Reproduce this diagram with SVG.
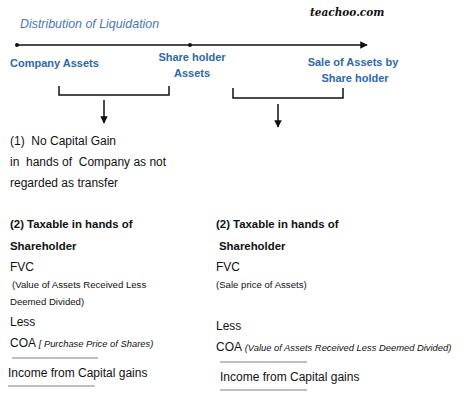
<svg xmlns="http://www.w3.org/2000/svg" width="474" height="405" viewBox="0 0 474 405">
<defs>
<style>
text{font-family:"Liberation Sans",Arial,sans-serif;fill:#111;white-space:pre}
.hd{font-weight:bold;font-size:11px;fill:#2f68a6}
.ti{font-style:italic;font-size:12.4px;fill:#4a78b3}
.b{font-weight:bold;font-size:11.4px}
.r{font-size:12px}
.s{font-size:9.6px}
.si{font-size:9.4px;font-style:italic}
.ln{stroke:#111;stroke-width:1.5;fill:none}
.gl{stroke:#aaa;stroke-width:1.5}
</style>
<marker id="ah" viewBox="0 0 10 10" refX="9" refY="5" markerWidth="5" markerHeight="5" orient="auto"><path d="M0,0L10,5L0,10z" fill="#111"/></marker>
</defs>
<rect width="474" height="405" fill="#fff"/>
<text class="ti" x="20" y="28">Distribution of Liquidation</text>
<text x="310" y="16" style="font-family:'DejaVu Serif',serif;font-weight:bold;font-style:italic;font-size:10.5px">teachoo.com</text>
<g id="connectors">
<line class="ln" x1="17" y1="45" x2="367" y2="45" marker-end="url(#ah)"/>
<circle cx="17" cy="45" r="2" fill="#111"/>
<circle cx="190" cy="45" r="2" fill="#111"/>
<path class="ln" d="M59,86V95H169V86"/>
<line class="ln" x1="104" y1="100" x2="104" y2="123" marker-end="url(#ah)"/>
<path class="ln" d="M233,88V98H343V88"/>
<line class="ln" x1="278" y1="104" x2="278" y2="127" marker-end="url(#ah)"/>
</g>
<g id="company-assets"><text class="hd" x="10" y="67">Company Assets</text></g>
<g id="shareholder-assets"><text class="hd" x="192" y="61" text-anchor="middle">Share holder</text><text class="hd" x="192" y="77" text-anchor="middle">Assets</text></g>
<g id="sale-assets"><text class="hd" x="353" y="66" text-anchor="middle">Sale of Assets by</text><text class="hd" x="355" y="82" text-anchor="middle">Share holder</text></g>
<g id="no-capital-gain">
<text class="r" x="10" y="145" xml:space="preserve">(1)  No Capital Gain</text>
<text class="r" x="10" y="166" xml:space="preserve">in  hands of  Company as not</text>
<text class="r" x="10" y="187">regarded as transfer</text>
</g>
<g id="taxable-left">
<text class="b" x="10" y="228">(2) Taxable in hands of</text>
<text class="b" x="10" y="250">Shareholder</text>
<text class="r" x="10" y="271">FVC</text>
<text class="s" x="12" y="288">(Value of Assets Received Less</text>
<text class="s" x="10" y="305">Deemed Divided)</text>
<text class="r" x="10" y="326">Less</text>
<text class="r" x="10" y="347">COA <tspan class="si">[ Purchase Price of Shares)</tspan></text>
<line class="gl" x1="12" y1="358" x2="98" y2="358"/>
<text class="r" x="8" y="377">Income from Capital gains</text>
<line class="gl" x1="8" y1="386" x2="95" y2="386"/>
</g>
<g id="taxable-right">
<text class="b" x="216" y="228">(2) Taxable in hands of</text>
<text class="b" x="219" y="250">Shareholder</text>
<text class="r" x="216" y="271">FVC</text>
<text class="s" x="216" y="288">(Sale price of Assets)</text>
<text class="r" x="216" y="330">Less</text>
<text class="r" x="216" y="351">COA <tspan class="si">(Value of Assets Received Less Deemed Divided)</tspan></text>
<line class="gl" x1="220" y1="362" x2="307" y2="362"/>
<text class="r" x="220" y="381">Income from Capital gains</text>
<line class="gl" x1="220" y1="390" x2="307" y2="390"/>
</g>
</svg>
